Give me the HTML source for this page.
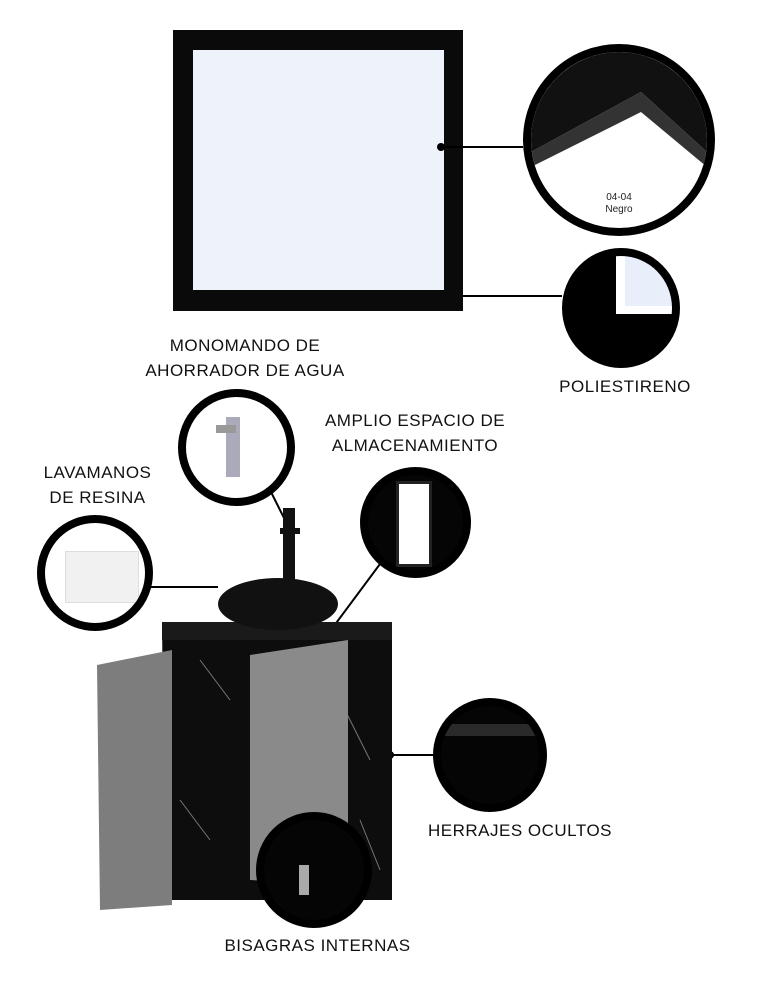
<!DOCTYPE html>
<html><head><meta charset="utf-8"><style>
html,body{margin:0;padding:0;background:#fff;}
body{width:774px;height:1000px;position:relative;overflow:hidden;font-family:"Liberation Sans",sans-serif;}
.a{position:absolute;}
.lbl{position:absolute;font-size:17px;letter-spacing:0.5px;color:#111;text-align:center;line-height:25px;white-space:nowrap;}
.circ{position:absolute;border-radius:50%;border:8px solid #000;box-sizing:border-box;overflow:hidden;background:#fff;}
</style></head><body>
<!-- mirror -->
<div class="a" style="left:173px;top:30px;width:290px;height:281px;background:#0a0a0a"></div>
<div class="a" style="left:193px;top:50px;width:251px;height:240px;background:#eef2fb"></div>
<svg class="a" style="left:0;top:0" width="774" height="1000">
<g stroke="#000" stroke-width="2" fill="none">
<line x1="441" y1="147" x2="523" y2="147"/>
<line x1="463" y1="296" x2="562" y2="296"/>
<line x1="270" y1="490" x2="290" y2="530"/>
<line x1="383" y1="560" x2="270" y2="712"/>
<line x1="150" y1="587" x2="218" y2="587"/>
<line x1="390" y1="755" x2="435" y2="755"/>
<line x1="258" y1="790" x2="280" y2="820"/>
</g>
<circle cx="441" cy="147" r="4" fill="#000"/>
<circle cx="390" cy="755" r="4" fill="#000"/>
<!-- cabinet -->
<polygon points="162,622 392,622 392,900 165,900" fill="#0d0d0d"/>
<rect x="162" y="622" width="230" height="18" fill="#1a1a1a"/>
<path d="M200 660 L230 700 M340 700 L370 760 M180 800 l30 40 M360 820 l20 50" stroke="#777" stroke-width="1" fill="none"/>
<polygon points="97,665 172,650 172,905 100,910" fill="#7d7d7d"/>
<polygon points="250,655 348,640 348,885 250,880" fill="#8a8a8a"/>
<ellipse cx="278" cy="604" rx="60" ry="26" fill="#111"/>
<rect x="283" y="508" width="12" height="72" fill="#111"/>
<rect x="280" y="528" width="20" height="6" fill="#111"/>
</svg>
<!-- circle 1 -->
<div class="circ" style="left:523px;top:44px;width:192px;height:192px">
<svg width="176" height="176" style="position:absolute;left:0;top:0"><polygon points="0,0 176,0 176,100 110,40 0,100" fill="#111"/><polygon points="0,100 110,40 176,100 176,115 110,60 0,115" fill="#333"/></svg>
<div class="a" style="left:0;width:176px;top:140px;text-align:center;font-size:10px;line-height:12px;color:#222">04-04<br>Negro</div>
</div>
<!-- circle 2 -->
<div class="circ" style="left:562px;top:248px;width:118px;height:120px;background:#000">
<div class="a" style="left:55px;top:0;width:60px;height:50px;background:#e8eefa"></div>
<div class="a" style="left:46px;top:0;width:9px;height:58px;background:#fff"></div>
<div class="a" style="left:46px;top:50px;width:70px;height:8px;background:#fff"></div>
</div>
<div class="lbl" style="left:555px;top:374px;width:140px">POLIESTIRENO</div>
<div class="lbl" style="left:135px;top:333px;width:220px">MONOMANDO DE<br>AHORRADOR DE AGUA</div>
<div class="circ" style="left:178px;top:389px;width:117px;height:117px">
<div class="a" style="left:40px;top:20px;width:14px;height:60px;background:#aab"></div>
<div class="a" style="left:30px;top:28px;width:20px;height:8px;background:#999"></div>
</div>
<div class="lbl" style="left:305px;top:408px;width:220px">AMPLIO ESPACIO DE<br>ALMACENAMIENTO</div>
<div class="circ" style="left:360px;top:467px;width:111px;height:111px;background:#050505">
<div class="a" style="left:28px;top:6px;width:30px;height:80px;background:#fff;border:3px solid #222"></div>
</div>
<div class="lbl" style="left:20px;top:460px;width:155px">LAVAMANOS<br>DE RESINA</div>
<div class="circ" style="left:37px;top:515px;width:116px;height:116px">
<div class="a" style="left:20px;top:28px;width:72px;height:50px;background:#f1f1f1;border:1px solid #ddd"></div>
</div>
<div class="circ" style="left:433px;top:698px;width:114px;height:114px;background:#050505">
<div class="a" style="left:0;top:18px;width:110px;height:12px;background:#2a2a2a"></div>
</div>
<div class="lbl" style="left:420px;top:818px;width:200px">HERRAJES OCULTOS</div>
<div class="circ" style="left:256px;top:812px;width:116px;height:116px;background:#050505">
<div class="a" style="left:35px;top:45px;width:10px;height:30px;background:#aaa"></div>
</div>
<div class="lbl" style="left:215px;top:933px;width:205px">BISAGRAS INTERNAS</div>
</body></html>
